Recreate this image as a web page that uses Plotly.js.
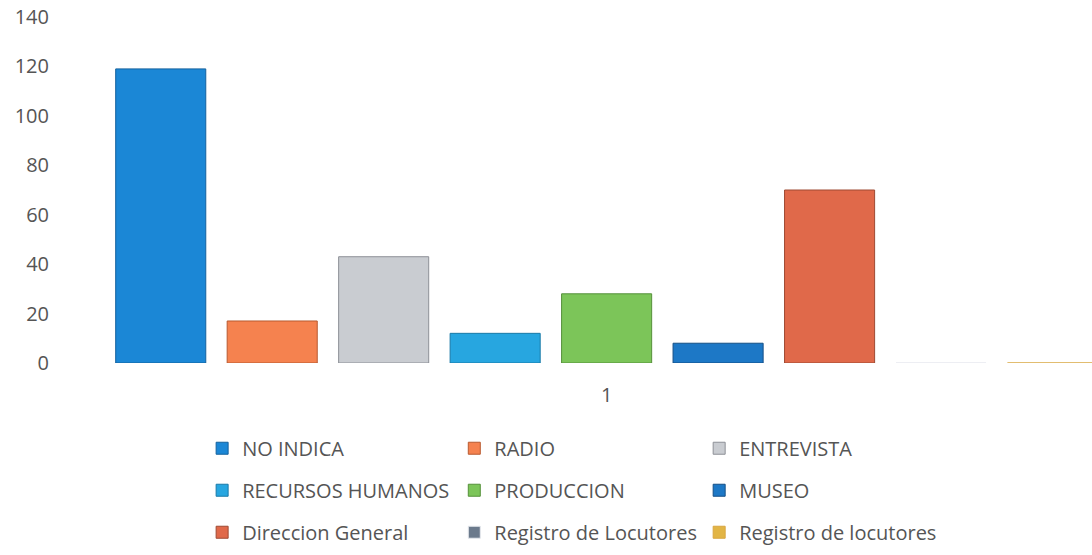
<!DOCTYPE html>
<html>
<head>
<meta charset="utf-8">
<script src="https://cdn.plot.ly/plotly-3.0.1.min.js"></script>
<style>html,body{margin:0;padding:0;background:#fff;}#chart{width:1092px;height:555px;}</style>
</head>
<body>
<div id="chart"></div>
<script>
// Data
const category = ['1'];
const seriesNames = ['NO INDICA', 'RADIO', 'ENTREVISTA', 'RECURSOS HUMANOS', 'PRODUCCION', 'MUSEO', 'Direccion General', 'Registro de Locutores', 'Registro de locutores'];
const seriesValues = [119, 17, 43, 12, 28, 8, 70, 0, 0];
const seriesColors = ['#1b87d6', '#f5824f', '#c9ccd1', '#27a6e0', '#7cc559', '#1d78c6', '#e0694a', '#6b7a8c', '#e2b545'];
const seriesLines = ['#14629e', '#b85a30', '#8d9097', '#1a7aa8', '#55903a', '#154f86', '#9e4a33', '#e6e9ee', '#d9a640'];
// legend column assignment (Excel row-major, 3 columns)
const legendIds = ['legend', 'legend2', 'legend3', 'legend', 'legend2', 'legend3', 'legend', 'legend2', 'legend3'];

const font = {family: '"Open Sans", sans-serif', size: 20, color: '#555555'};

const traces = seriesNames.map((name, i) => ({
  type: 'bar',
  name: name,
  x: category,
  y: [seriesValues[i]],
  marker: {color: seriesColors[i], line: {color: seriesLines[i], width: 1}},
  legend: legendIds[i],
  legendgroup: 'g' + i,
  hoverinfo: 'name+y'
}));

const legendBase = {
  orientation: 'v', yanchor: 'top', xanchor: 'left', y: -0.19,
  font: font, bgcolor: 'rgba(0,0,0,0)', tracegroupgap: 13,
  itemwidth: 30
};

const layout = {
  width: 1092, height: 555,
  margin: {l: 50, r: 0, t: 17, b: 192},
  paper_bgcolor: '#ffffff', plot_bgcolor: '#ffffff',
  font: font,
  barmode: 'group',
  bargap: 0.0988,
  bargroupgap: 0.192,
  showlegend: true,
  legend: Object.assign({}, legendBase, {x: 0.146}),
  legend2: Object.assign({}, legendBase, {x: 0.388}),
  legend3: Object.assign({}, legendBase, {x: 0.623}),
  xaxis: {
    type: 'category', range: [-0.5, 0.436],
    showgrid: false, zeroline: false, showline: false, ticks: '',
    ticklabelstandoff: 18, tickfont: font
  },
  yaxis: {
    range: [0, 140], dtick: 20, tick0: 0,
    showgrid: false, zeroline: false, showline: false, ticks: '',
    tickfont: font
  }
};

Plotly.newPlot('chart', traces, layout, {displayModeBar: false, staticPlot: true});
</script>
</body>
</html>
